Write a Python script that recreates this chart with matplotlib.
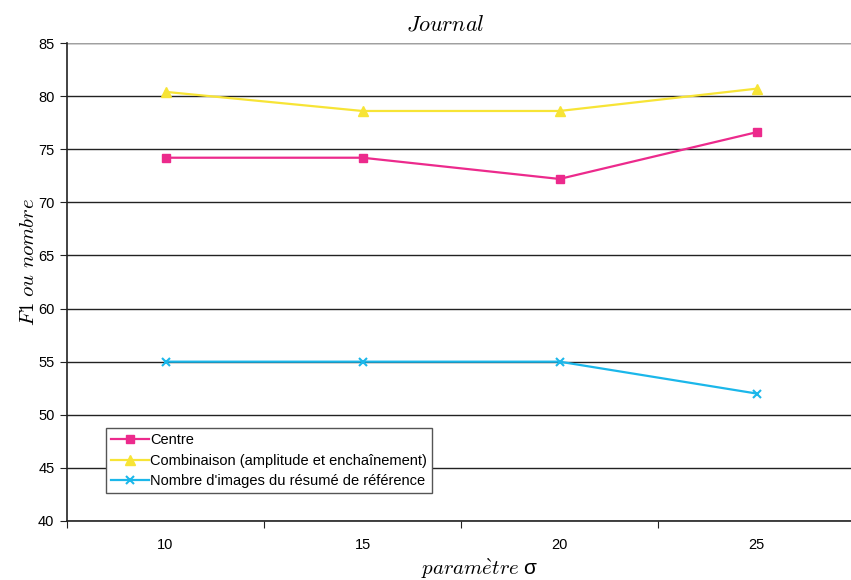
import numpy as np
import matplotlib
matplotlib.use('Agg')
import matplotlib.pyplot as plt

plt.rcParams['font.family'] = ['Liberation Sans', 'DejaVu Sans']
plt.rcParams['mathtext.fontset'] = 'cm'

# === Data ===
sigma = ['10', '15', '20', '25']
centre = [74.2, 74.2, 72.2, 76.6]
combinaison = [80.4, 78.6, 78.6, 80.7]
nombre_images = [55, 55, 55, 52]

# === Figure ===
fig = plt.figure(figsize=(8.51, 5.8), dpi=100)
ax = fig.add_axes([67 / 851, 59 / 580, 788 / 851, 478 / 580])

x = np.arange(len(sigma))
ax.plot(x, centre, color='#EC2A8C', lw=1.6, marker='s', ms=6,
        label='Centre')
ax.plot(x, combinaison, color='#F7E436', lw=1.6, marker='^', ms=6.5,
        label='Combinaison (amplitude et encha\u00eenement)')
ax.plot(x, nombre_images, color='#1BB7EA', lw=1.6, marker='x', ms=6, mew=1.5,
        label="Nombre d'images du r\u00e9sum\u00e9 de r\u00e9f\u00e9rence")

ax.set_xlim(-0.5, len(sigma) - 0.5)
ax.set_ylim(40, 85)
ax.set_yticks(np.arange(40, 86, 5))
ax.yaxis.grid(True, color='#222222', lw=1.0)
ax.set_axisbelow(True)

# category ticks between categories, labels centered
ax.set_xticks(np.arange(-0.5, len(sigma) + 0.5, 1))
ax.set_xticklabels([])
ax.set_xticks(x, minor=True)
ax.set_xticklabels(sigma, minor=True)
ax.tick_params(axis='x', which='minor', length=0, pad=12, labelsize=10.5)
ax.tick_params(axis='x', which='major', length=5, direction='out', color='#222222')
ax.tick_params(axis='y', length=5, direction='out', labelsize=10.5, color='#222222', pad=4)

for s in ['top', 'right']:
    ax.spines[s].set_visible(False)
ax.spines['left'].set_color('#222222')
ax.spines['bottom'].set_color('#222222')
ax.spines['left'].set_linewidth(1.2)
ax.spines['bottom'].set_linewidth(1.2)
ax.axhline(85, color='#A0A0A0', lw=1.5)

fig.text(445 / 851, 1 - 25 / 580, r'$\mathit{Journal}$', fontsize=16,
         ha='center', va='center')
fig.text(28 / 851, 1 - 262 / 580, r'$F1\ \mathit{ou\ nombre}$', fontsize=15,
         ha='center', va='center', rotation=90)
fig.text(480 / 851, 1 - 569 / 580, r'$\mathit{param\grave{e}tre}$ σ', fontsize=15,
         ha='center', va='center')

leg = ax.legend(loc='lower left', bbox_to_anchor=(0.049, 0.058), fontsize=10.5,
                fancybox=False, framealpha=1, edgecolor='#555555',
                borderpad=0.35, handlelength=2.6, handletextpad=0.1,
                labelspacing=0.45, borderaxespad=0)
leg.get_frame().set_linewidth(1.0)

fig.savefig('out.png', dpi=100)
